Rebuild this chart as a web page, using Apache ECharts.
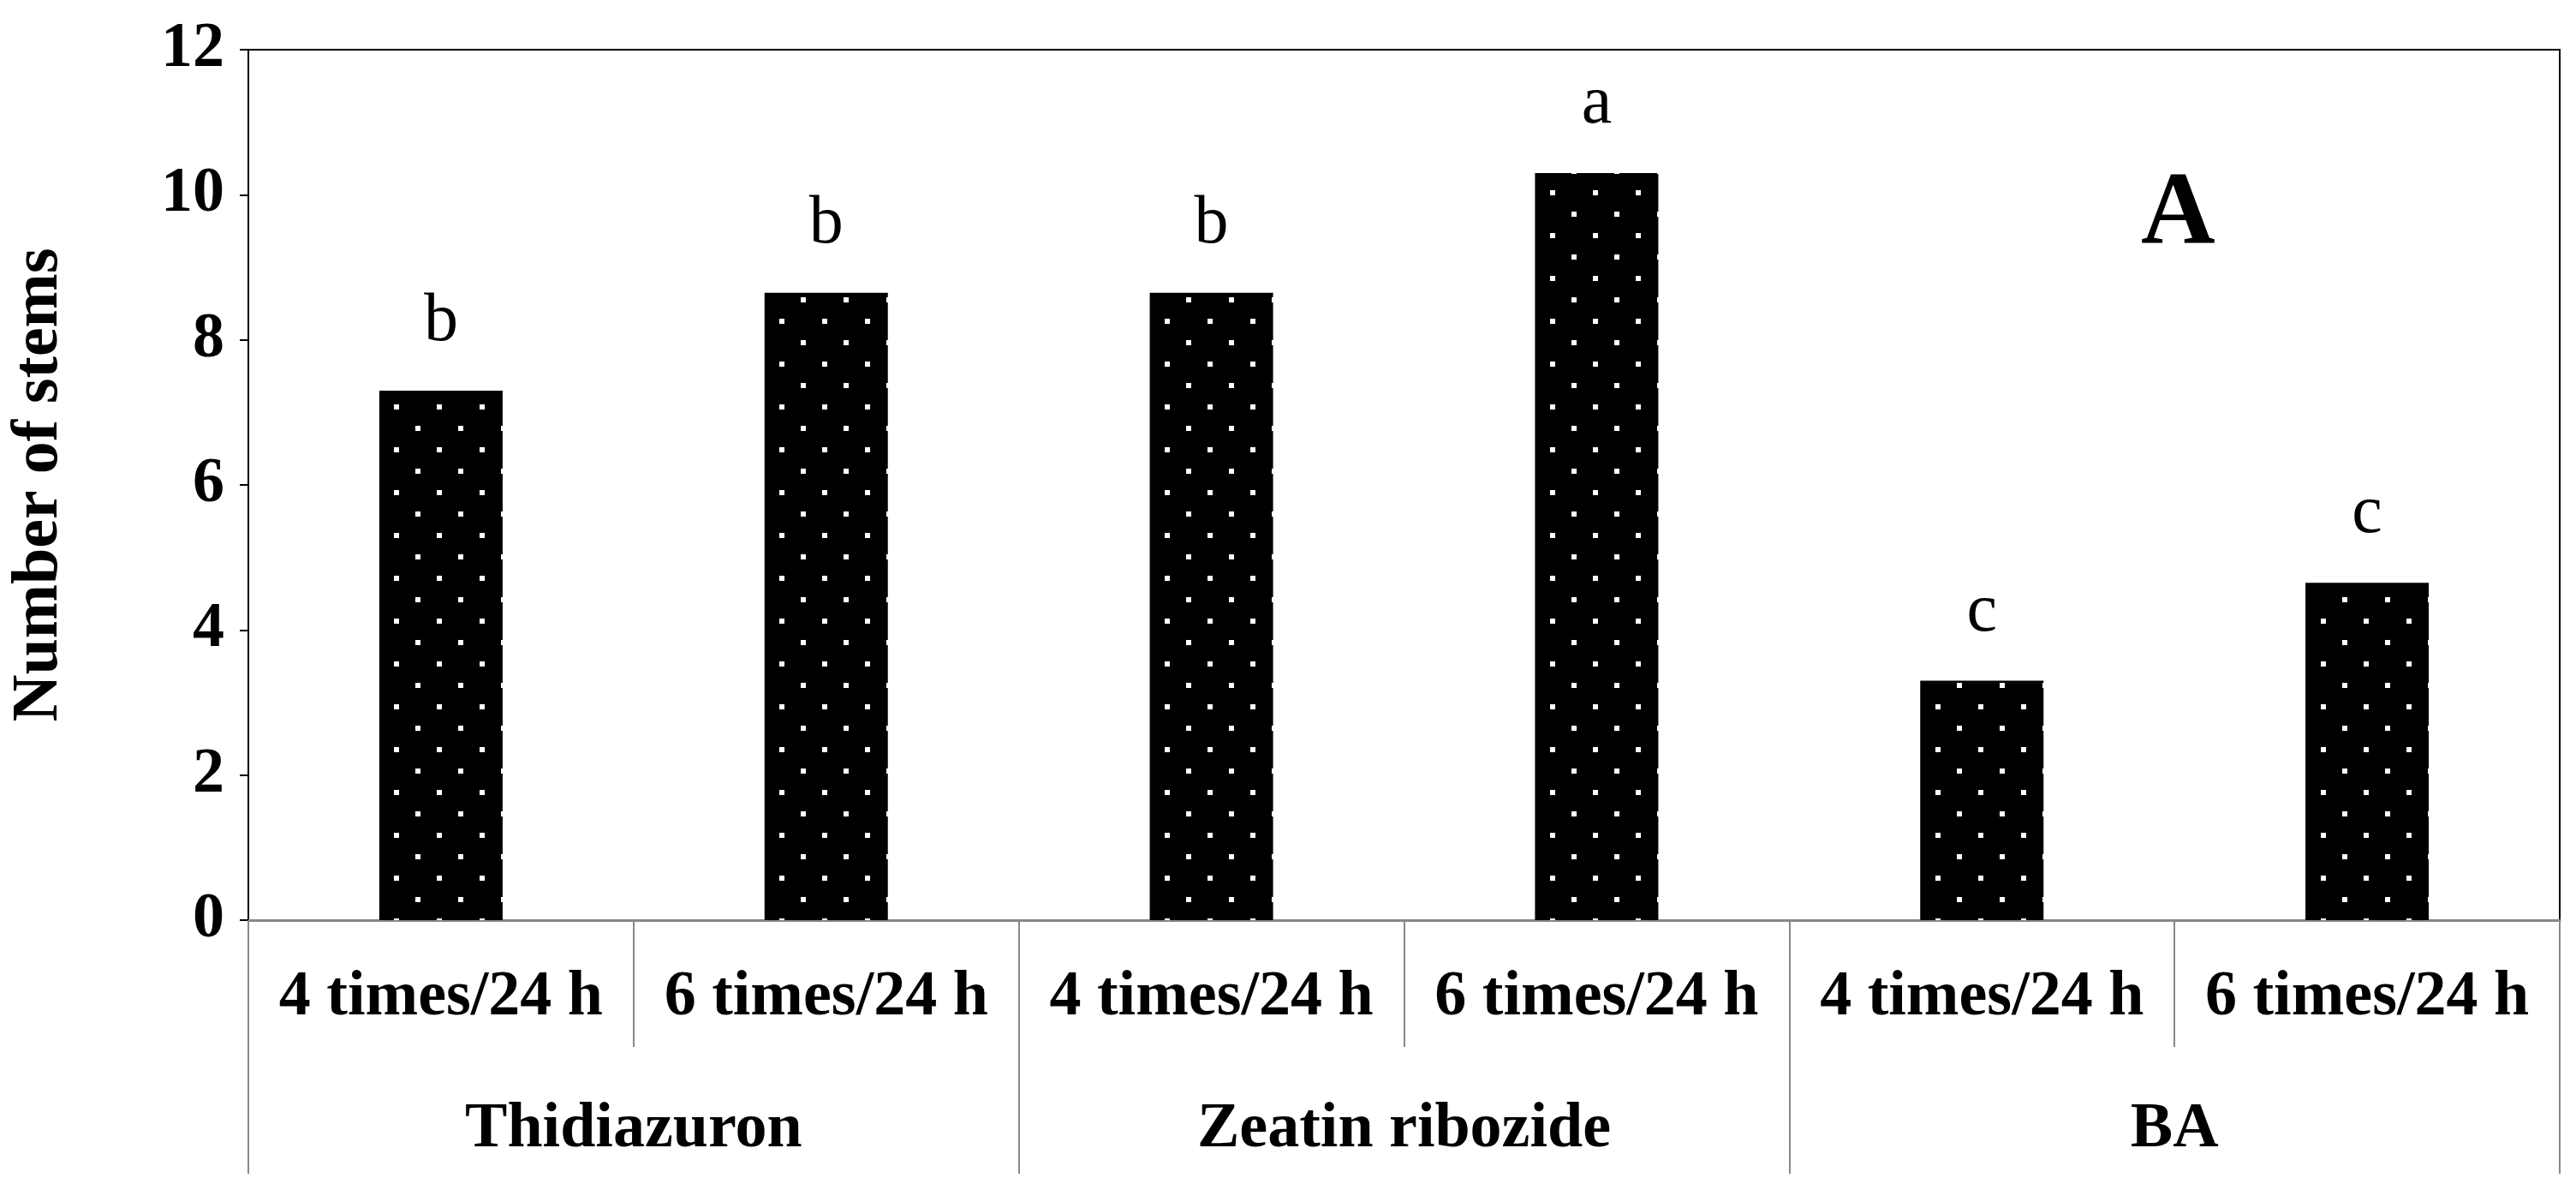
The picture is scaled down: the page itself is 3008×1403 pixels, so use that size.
<!DOCTYPE html>
<html>
<head>
<meta charset="utf-8">
<script src="https://cdn.jsdelivr.net/npm/echarts@6/dist/echarts.min.js"></script>
</head>
<body style="margin:0">
<div id="chart" style="width:3008px;height:1403px"></div>
<script>
// data
let treatments = ['4 times/24 h', '6 times/24 h', '4 times/24 h', '6 times/24 h', '4 times/24 h', '6 times/24 h'];
let groups = ['Thidiazuron', 'Zeatin ribozide', 'BA'];
let stems = [7.3, 8.65, 8.65, 10.3, 3.3, 4.65];
let letters = ['b', 'b', 'b', 'a', 'c', 'c'];

// dotted fill: black with staggered white dots
let cv = document.createElement('canvas');
cv.width = 50; cv.height = 50;
let cx = cv.getContext('2d');
cx.fillStyle = '#000';
cx.fillRect(0, 0, 50, 50);
cx.fillStyle = '#fff';
cx.fillRect(10, 22, 6, 6);
cx.fillRect(35, 47, 6, 3);
cx.fillRect(35, 0, 6, 3);

let font = '"Liberation Serif", "Times New Roman", serif';
let chart = echarts.init(document.getElementById('chart'));
chart.setOption({
    animation: false,
    textStyle: {fontFamily: font},
    grid: {left: 284, right: 19, top: 58, bottom: 329, show: true, borderColor: '#000', borderWidth: 2},
    xAxis: [
        {
            type: 'category', data: treatments, position: 'bottom',
            axisLine: {lineStyle: {color: '#888', width: 3}},
            axisTick: {show: true, interval: 0, length: 148, lineStyle: {color: '#888', width: 2}},
            axisLabel: {interval: 0, margin: 54, fontSize: 74, fontWeight: 'bold', color: '#000', fontFamily: font}
        },
        {
            type: 'category', data: groups, position: 'bottom',
            axisLine: {show: false},
            axisTick: {show: true, interval: 0, length: 296, lineStyle: {color: '#888', width: 2}},
            axisLabel: {interval: 0, margin: 208, fontSize: 74, fontWeight: 'bold', color: '#000', fontFamily: font}
        }
    ],
    yAxis: {
        type: 'value', min: 0, max: 12, interval: 2,
        name: 'Number of stems', nameLocation: 'middle', nameGap: 206,
        nameTextStyle: {fontSize: 76, fontWeight: 'bold', color: '#000', fontFamily: font},
        axisLine: {show: true, lineStyle: {color: '#000', width: 2}},
        axisTick: {show: true, length: 10, lineStyle: {color: '#000', width: 2}},
        splitLine: {show: false},
        axisLabel: {margin: 28, fontSize: 74, fontWeight: 'bold', color: '#000', fontFamily: font}
    },
    series: [{
        type: 'bar', xAxisIndex: 0, barWidth: 144,
        data: stems,
        itemStyle: {color: {image: cv, repeat: 'repeat'}},
        label: {
            show: true, position: 'top', distance: 40,
            formatter: p => letters[p.dataIndex],
            fontSize: 80, color: '#000', fontFamily: font
        }
    }],
    graphic: [{
        type: 'text', left: 2500, top: 192,
        style: {text: 'A', font: 'bold 120px ' + font, fill: '#000'}
    }]
});
</script>
</body>
</html>
